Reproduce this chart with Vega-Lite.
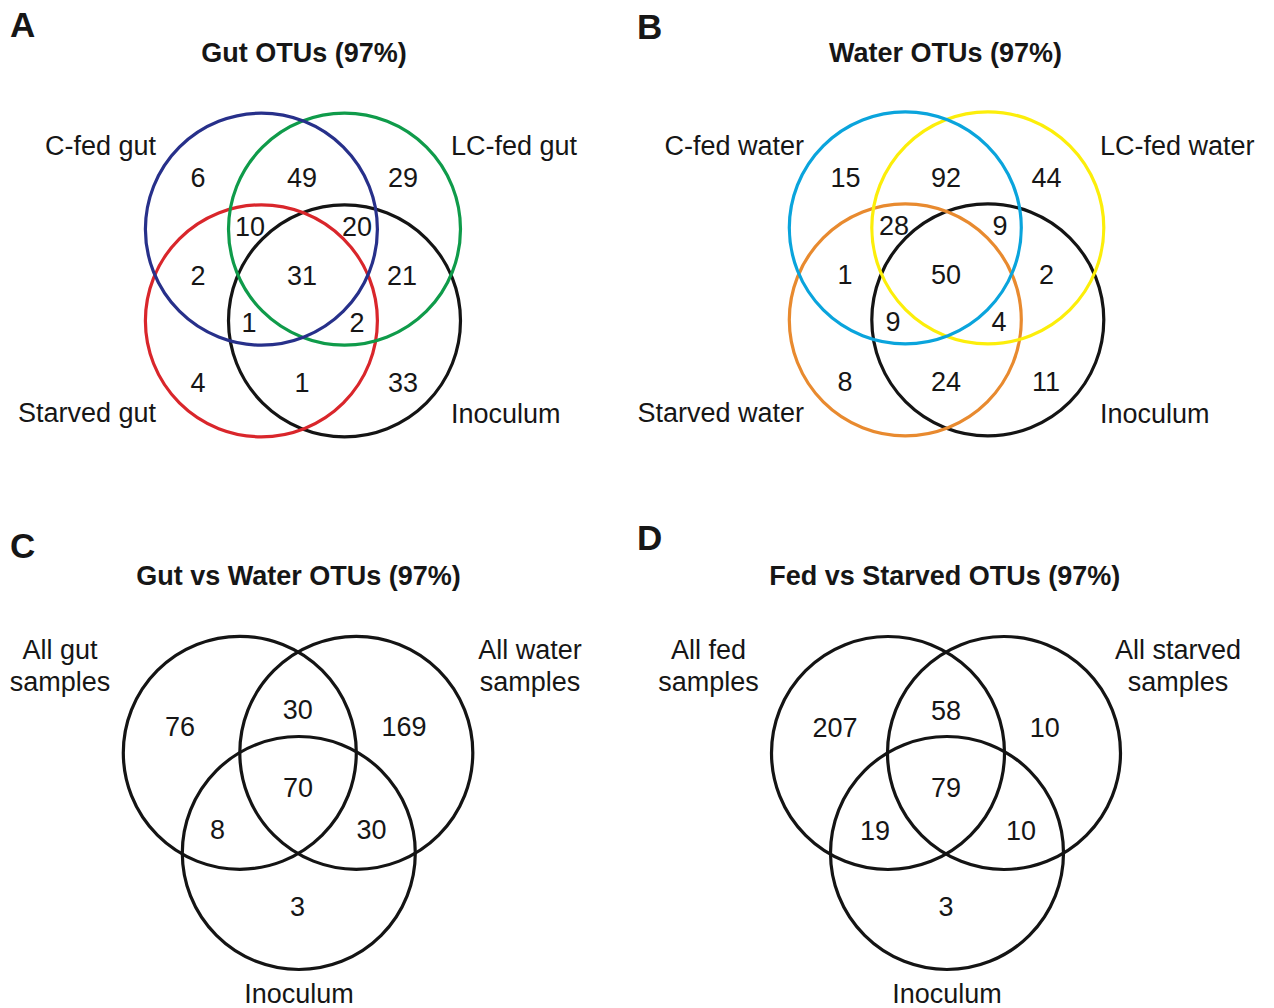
{
  "$schema": "https://vega.github.io/schema/vega-lite/v6.json",
  "width": 1274,
  "height": 1008,
  "autosize": {"type": "fit", "contains": "padding"},
  "padding": 0,
  "background": "white",
  "config": {"view": {"stroke": null}, "font": "Liberation Sans"},
  "datasets": {
    "circles": [
      {"panel": "A", "set": "Inoculum", "x": 344.5, "y": 320.8, "r": 116},
      {"panel": "A", "set": "Starved gut", "x": 261.4, "y": 320.8, "r": 116},
      {"panel": "A", "set": "LC-fed gut", "x": 344.5, "y": 229.2, "r": 116},
      {"panel": "A", "set": "C-fed gut", "x": 261.4, "y": 229.2, "r": 116},
      {"panel": "B", "set": "Inoculum", "x": 987.8, "y": 319.8, "r": 116},
      {"panel": "B", "set": "Starved water", "x": 905.3, "y": 319.8, "r": 116},
      {"panel": "B", "set": "LC-fed water", "x": 987.8, "y": 227.8, "r": 116},
      {"panel": "B", "set": "C-fed water", "x": 905.3, "y": 227.8, "r": 116},
      {"panel": "C", "set": "All gut samples", "x": 239.8, "y": 752.8, "r": 116.5},
      {"panel": "C", "set": "All water samples", "x": 356.3, "y": 752.8, "r": 116.5},
      {"panel": "C", "set": "Inoculum", "x": 298.8, "y": 853, "r": 116.5},
      {"panel": "D", "set": "All fed samples", "x": 888, "y": 753, "r": 116.5},
      {"panel": "D", "set": "All starved samples", "x": 1004, "y": 753, "r": 116.5},
      {"panel": "D", "set": "Inoculum", "x": 947, "y": 853, "r": 116.5}
    ],
    "regions": [
      {"panel": "A", "n": 6, "x": 198, "y": 178.5},
      {"panel": "A", "n": 49, "x": 302, "y": 178.5},
      {"panel": "A", "n": 29, "x": 403, "y": 178.5},
      {"panel": "A", "n": 10, "x": 250, "y": 227.5},
      {"panel": "A", "n": 20, "x": 357, "y": 227.5},
      {"panel": "A", "n": 2, "x": 198, "y": 276.5},
      {"panel": "A", "n": 31, "x": 302, "y": 276.5},
      {"panel": "A", "n": 21, "x": 402, "y": 276.5},
      {"panel": "A", "n": 1, "x": 249, "y": 323.5},
      {"panel": "A", "n": 2, "x": 357, "y": 323.5},
      {"panel": "A", "n": 4, "x": 198, "y": 383.5},
      {"panel": "A", "n": 1, "x": 302, "y": 383.5},
      {"panel": "A", "n": 33, "x": 403, "y": 383.5},
      {"panel": "B", "n": 15, "x": 845.5, "y": 178.5},
      {"panel": "B", "n": 92, "x": 946, "y": 178.5},
      {"panel": "B", "n": 44, "x": 1046.5, "y": 178.5},
      {"panel": "B", "n": 28, "x": 894, "y": 227},
      {"panel": "B", "n": 9, "x": 1000, "y": 227},
      {"panel": "B", "n": 1, "x": 845, "y": 276},
      {"panel": "B", "n": 50, "x": 946, "y": 276},
      {"panel": "B", "n": 2, "x": 1046.5, "y": 276},
      {"panel": "B", "n": 9, "x": 893, "y": 322.5},
      {"panel": "B", "n": 4, "x": 999, "y": 322.5},
      {"panel": "B", "n": 8, "x": 845, "y": 382.5},
      {"panel": "B", "n": 24, "x": 946, "y": 382.5},
      {"panel": "B", "n": 11, "x": 1046, "y": 382.5},
      {"panel": "C", "n": 76, "x": 180, "y": 727.5},
      {"panel": "C", "n": 30, "x": 297.8, "y": 711},
      {"panel": "C", "n": 169, "x": 404, "y": 727.5},
      {"panel": "C", "n": 70, "x": 298, "y": 788.5},
      {"panel": "C", "n": 8, "x": 217.5, "y": 831},
      {"panel": "C", "n": 30, "x": 371.5, "y": 831},
      {"panel": "C", "n": 3, "x": 297.4, "y": 907.5},
      {"panel": "D", "n": 207, "x": 835, "y": 728.5},
      {"panel": "D", "n": 58, "x": 946, "y": 712},
      {"panel": "D", "n": 10, "x": 1044.7, "y": 728.5},
      {"panel": "D", "n": 79, "x": 946, "y": 788.5},
      {"panel": "D", "n": 19, "x": 875, "y": 831.5},
      {"panel": "D", "n": 10, "x": 1021, "y": 831.5},
      {"panel": "D", "n": 3, "x": 946, "y": 908}
    ],
    "texts": [
      {"kind": "letter", "label": "A", "x": 10, "y": 26},
      {"kind": "letter", "label": "B", "x": 637, "y": 28},
      {"kind": "letter", "label": "C", "x": 10, "y": 547},
      {"kind": "letter", "label": "D", "x": 637, "y": 539},
      {"kind": "title", "label": "Gut OTUs (97%)", "x": 304, "y": 54},
      {"kind": "title", "label": "Water OTUs (97%)", "x": 945.5, "y": 54},
      {"kind": "title", "label": "Gut vs Water OTUs (97%)", "x": 298.5, "y": 576.5},
      {"kind": "title", "label": "Fed vs Starved OTUs (97%)", "x": 944.7, "y": 576.5},
      {"kind": "right", "label": "C-fed gut", "x": 156, "y": 147},
      {"kind": "right", "label": "Starved gut", "x": 156, "y": 414},
      {"kind": "right", "label": "C-fed water", "x": 804, "y": 146.5},
      {"kind": "right", "label": "Starved water", "x": 804, "y": 414},
      {"kind": "left", "label": "LC-fed gut", "x": 451, "y": 147},
      {"kind": "left", "label": "Inoculum", "x": 451, "y": 415},
      {"kind": "left", "label": "LC-fed water", "x": 1100, "y": 146.5},
      {"kind": "left", "label": "Inoculum", "x": 1100, "y": 415},
      {"kind": "center", "label": "All gut\nsamples", "x": 60, "y": 651},
      {"kind": "center", "label": "All water\nsamples", "x": 530, "y": 651},
      {"kind": "center", "label": "Inoculum", "x": 299, "y": 995},
      {"kind": "center", "label": "All fed\nsamples", "x": 708.5, "y": 651},
      {"kind": "center", "label": "All starved\nsamples", "x": 1178, "y": 651},
      {"kind": "center", "label": "Inoculum", "x": 947, "y": 995}
    ]
  },
  "encoding": {
    "x": {"field": "x", "type": "quantitative", "scale": {"domain": [0, 1274], "nice": false, "zero": false}, "axis": null},
    "y": {"field": "y", "type": "quantitative", "scale": {"domain": [0, 1008], "nice": false, "zero": false, "reverse": true}, "axis": null}
  },
  "layer": [
    {
      "data": {"name": "circles"},
      "mark": {"type": "point", "shape": "circle", "filled": false, "strokeWidth": 3.2, "opacity": 1},
      "encoding": {
        "size": {"field": "r", "type": "quantitative", "scale": {"type": "pow", "exponent": 2, "domain": [0, 100], "range": [0, 40000]}, "legend": null},
        "color": {
          "field": "set",
          "type": "nominal",
          "scale": {
            "domain": ["C-fed gut", "LC-fed gut", "Starved gut", "C-fed water", "LC-fed water", "Starved water", "Inoculum", "All gut samples", "All water samples", "All fed samples", "All starved samples"],
            "range": ["#27308a", "#0f9b4a", "#d9262b", "#0aa4dc", "#fcee0a", "#e88a2f", "#141414", "#141414", "#141414", "#141414", "#141414"]
          },
          "legend": null
        }
      }
    },
    {
      "data": {"name": "regions"},
      "mark": {"type": "text", "fontSize": 27, "align": "center", "baseline": "middle", "color": "#161616", "font": "Liberation Sans"},
      "encoding": {"text": {"field": "n", "type": "quantitative"}}
    },
    {
      "data": {"name": "texts"},
      "transform": [{"filter": "datum.kind === 'letter'"}],
      "mark": {"type": "text", "fontSize": 35, "fontWeight": "bold", "align": "left", "baseline": "middle", "color": "#161616", "font": "Liberation Sans"},
      "encoding": {"text": {"field": "label", "type": "nominal"}}
    },
    {
      "data": {"name": "texts"},
      "transform": [{"filter": "datum.kind === 'title'"}],
      "mark": {"type": "text", "fontSize": 27, "fontWeight": "bold", "align": "center", "baseline": "middle", "color": "#161616", "font": "Liberation Sans"},
      "encoding": {"text": {"field": "label", "type": "nominal"}}
    },
    {
      "data": {"name": "texts"},
      "transform": [{"filter": "datum.kind === 'right'"}],
      "mark": {"type": "text", "fontSize": 27, "align": "right", "baseline": "middle", "color": "#161616", "font": "Liberation Sans"},
      "encoding": {"text": {"field": "label", "type": "nominal"}}
    },
    {
      "data": {"name": "texts"},
      "transform": [{"filter": "datum.kind === 'left'"}],
      "mark": {"type": "text", "fontSize": 27, "align": "left", "baseline": "middle", "color": "#161616", "font": "Liberation Sans"},
      "encoding": {"text": {"field": "label", "type": "nominal"}}
    },
    {
      "data": {"name": "texts"},
      "transform": [{"filter": "datum.kind === 'center'"}],
      "mark": {"type": "text", "fontSize": 27, "align": "center", "baseline": "middle", "lineBreak": "\n", "lineHeight": 32, "color": "#161616", "font": "Liberation Sans"},
      "encoding": {"text": {"field": "label", "type": "nominal"}}
    }
  ]
}
